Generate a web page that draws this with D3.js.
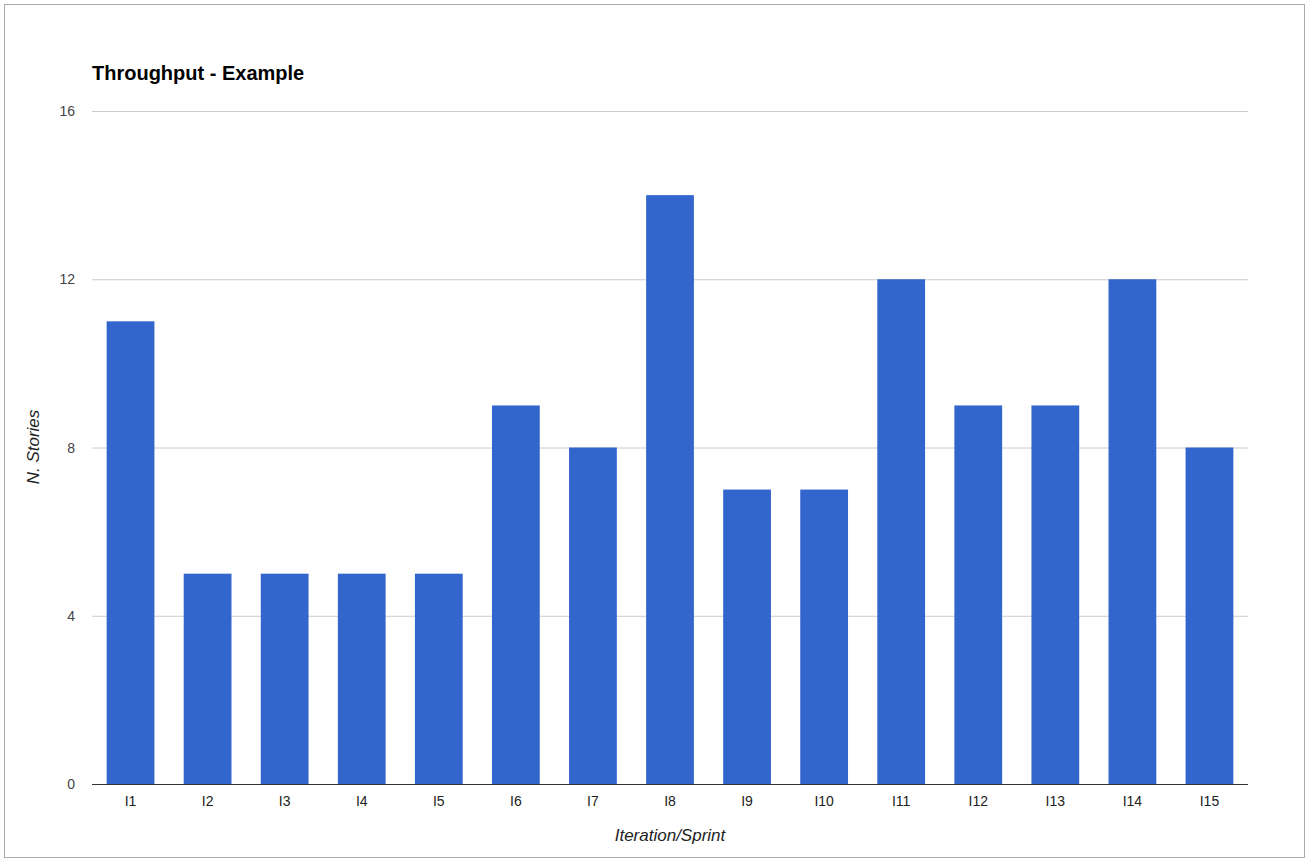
<!DOCTYPE html>
<html><head><meta charset="utf-8">
<script src="https://cdn.jsdelivr.net/npm/d3@7"></script>
<style>body{margin:0;background:#fff;font-family:"Liberation Sans",Arial,sans-serif}</style>
</head><body><svg id="c" width="1309" height="863"></svg>
<script>
const categories=["I1","I2","I3","I4","I5","I6","I7","I8","I9","I10","I11","I12","I13","I14","I15"];
const values=[11,5,5,5,5,9,8,14,7,7,12,9,9,12,8];
const yTicks=[0,4,8,12,16];
const svg=d3.select("#c");
svg.append("rect").attr("x",4.5).attr("y",4.5).attr("width",1300).attr("height",853).attr("fill","#fff").attr("stroke","#aaa");
const L=92,R=1248,T=111,B=784;
const x=d3.scaleBand().domain(categories).range([L,R]).paddingInner(0.38).paddingOuter(0.19);
const y=d3.scaleLinear().domain([0,16]).range([B,T]);
svg.append("g").selectAll("line").data(yTicks).join("line").attr("x1",L).attr("x2",R)
 .attr("y1",d=>y(d)+0.5).attr("y2",d=>y(d)+0.5).attr("stroke","#ccc");
svg.append("g").selectAll("text").data(yTicks).join("text").attr("x",75).attr("y",d=>y(d)+5)
 .attr("text-anchor","end").attr("font-size",14).attr("fill","#444").text(d=>d);
svg.append("g").selectAll("rect").data(values).join("rect").attr("x",(d,i)=>x(categories[i]))
 .attr("width",x.bandwidth()).attr("y",d=>y(d)).attr("height",d=>B-y(d)).attr("fill","#3366cc");
svg.append("line").attr("x1",L).attr("x2",R).attr("y1",B+0.5).attr("y2",B+0.5).attr("stroke","#333");
svg.append("g").selectAll("text").data(categories).join("text").attr("x",d=>x(d)+x.bandwidth()/2).attr("y",806)
 .attr("text-anchor","middle").attr("font-size",14).attr("fill","#222").text(d=>d);
svg.append("text").attr("x",92).attr("y",80).attr("font-size",20).attr("font-weight","bold").attr("fill","#000").text("Throughput - Example");
svg.append("text").attr("x",670).attr("y",841).attr("text-anchor","middle").attr("font-size",17).attr("font-style","italic").attr("fill","#222").text("Iteration/Sprint");
svg.append("text").attr("transform","translate(39,447) rotate(-90)").attr("text-anchor","middle").attr("font-size",17).attr("font-style","italic").attr("fill","#222").text("N. Stories");
</script></body></html>
